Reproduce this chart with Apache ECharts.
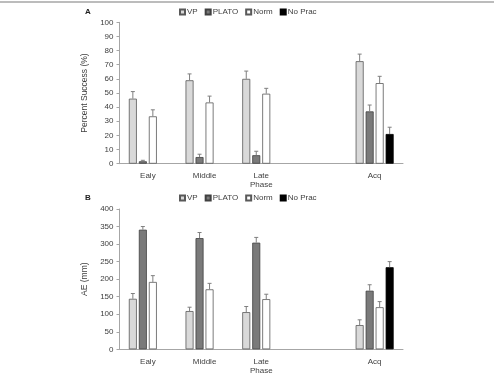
<!DOCTYPE html>
<html>
<head>
<meta charset="utf-8">
<script src="https://cdn.jsdelivr.net/npm/echarts@6/dist/echarts.min.js"></script>
<style>
  html, body { margin: 0; padding: 0; background: #fff; }
  #chart { width: 494px; height: 377px; }
</style>
</head>
<body>
<div id="chart"></div>
<script>
// categories (blank slot between Late Phase and Acq)
const categories = ['Ealy', 'Middle', 'Late\nPhase', '', 'Acq']
const seriesNames = ['VP', 'PLATO', 'Norm', 'No Prac']

// panel A: percent success
const succVP = [46, 59, 60, '-', 72.5]
const succPLATO = [1.7, 4.7, 6, '-', 37]
const succNorm = [33.5, 43.3, 49.5, '-', 57]
const succNoPrac = ['-', '-', '-', '-', 21]
const succErrVP = [5, 4.5, 5.5, 0, 5]
const succErrPLATO = [0.7, 2, 2.8, 0, 4.5]
const succErrNorm = [4.6, 4.5, 3.8, 0, 4.8]
const succErrNoPrac = [0, 0, 0, 0, 4.8]

// panel B: AE (mm)
const aeVP = [144, 109, 106, '-', 69]
const aePLATO = [341, 317, 304, '-', 167]
const aeNorm = [192, 171, 143, '-', 120]
const aeNoPrac = ['-', '-', '-', '-', 234]
const aeErrVP = [15, 11, 16, 0, 15]
const aeErrPLATO = [9, 16, 15, 0, 17]
const aeErrNorm = [18, 17, 14, 0, 16]
const aeErrNoPrac = [0, 0, 0, 0, 16]

const fills = ['#d9d9d9', '#7a7a7a', '#ffffff', '#000000']
const borders = ['#595959', '#404040', '#595959', '#000000']
const font = 'Liberation Sans, Arial, sans-serif'

const chart = echarts.init(document.getElementById('chart'))

function barSeries(i, data, axis) {
  return {
    name: seriesNames[i],
    type: 'bar',
    xAxisIndex: axis,
    yAxisIndex: axis,
    data: data,
    barWidth: 8,
    barGap: '25%',
    itemStyle: { color: fills[i], borderColor: borders[i], borderWidth: 0.8 },
    z: 2
  }
}

function errSeries(i, vals, errs, axis) {
  return {
    type: 'custom',
    xAxisIndex: axis,
    yAxisIndex: axis,
    data: vals.map((v, k) => [k, v, errs[k]]).filter(d => d[1] !== '-'),
    renderItem: function (params, api) {
      const base = api.coord([api.value(0), api.value(1)])
      const top = api.coord([api.value(0), api.value(1) + api.value(2)])
      const x = base[0] + (i - 1.5) * 10
      return {
        type: 'group',
        children: [
          { type: 'line', shape: { x1: x, y1: base[1], x2: x, y2: top[1] }, style: { stroke: '#7f7f7f', lineWidth: 1 } },
          { type: 'line', shape: { x1: x - 2, y1: top[1], x2: x + 2, y2: top[1] }, style: { stroke: '#7f7f7f', lineWidth: 1 } }
        ]
      }
    },
    silent: true,
    z: 3
  }
}

const xAxisCommon = {
  type: 'category',
  data: categories,
  axisLine: { lineStyle: { color: '#a6a6a6', width: 1 } },
  axisTick: { show: false },
  axisLabel: { color: '#404040', fontSize: 8, fontFamily: font, margin: 8, lineHeight: 9 }
}

const yAxisCommon = {
  type: 'value',
  axisLine: { show: true, lineStyle: { color: '#a6a6a6' } },
  axisTick: { show: true, length: 3, lineStyle: { color: '#a6a6a6' } },
  splitLine: { show: false },
  axisLabel: { color: '#404040', fontSize: 8, fontFamily: font, margin: 6 },
  nameLocation: 'middle',
  nameRotate: 90,
  nameTextStyle: { color: '#404040', fontSize: 8.5, fontFamily: font }
}

const legendCommon = {
  data: seriesNames,
  left: 179,
  icon: 'rect',
  itemWidth: 5,
  itemHeight: 5,
  itemGap: 7,
  textStyle: { color: '#404040', fontSize: 8, fontFamily: font, padding: [0, 0, 0, -3] },
  padding: 0
}

chart.setOption({
  animation: false,
  backgroundColor: '#fff',
  legend: [
    Object.assign({ top: 8 }, legendCommon),
    Object.assign({ top: 194 }, legendCommon)
  ],
  grid: [
    { left: 119.5, right: 91, top: 22.3, height: 141.4 },
    { left: 119.5, right: 91, top: 209, height: 140.3 }
  ],
  xAxis: [
    Object.assign({ gridIndex: 0 }, xAxisCommon),
    Object.assign({ gridIndex: 1 }, xAxisCommon)
  ],
  yAxis: [
    Object.assign({ gridIndex: 0, min: 0, max: 100, interval: 10, name: 'Percent Success (%)', nameGap: 26 }, yAxisCommon),
    Object.assign({ gridIndex: 1, min: 0, max: 400, interval: 50, name: 'AE (mm)', nameGap: 26 }, yAxisCommon)
  ],
  graphic: [
    { type: 'line', shape: { x1: 0, y1: 2, x2: 494, y2: 2 }, style: { stroke: '#a6a6a6', lineWidth: 1.5 } },
    { type: 'text', left: 85, top: 8, style: { text: 'A', font: 'bold 8px ' + font, fill: '#222' } },
    { type: 'text', left: 85, top: 194, style: { text: 'B', font: 'bold 8px ' + font, fill: '#222' } }
  ],
  series: [
    barSeries(0, succVP, 0),
    barSeries(1, succPLATO, 0),
    barSeries(2, succNorm, 0),
    barSeries(3, succNoPrac, 0),
    errSeries(0, succVP, succErrVP, 0),
    errSeries(1, succPLATO, succErrPLATO, 0),
    errSeries(2, succNorm, succErrNorm, 0),
    errSeries(3, succNoPrac, succErrNoPrac, 0),
    barSeries(0, aeVP, 1),
    barSeries(1, aePLATO, 1),
    barSeries(2, aeNorm, 1),
    barSeries(3, aeNoPrac, 1),
    errSeries(0, aeVP, aeErrVP, 1),
    errSeries(1, aePLATO, aeErrPLATO, 1),
    errSeries(2, aeNorm, aeErrNorm, 1),
    errSeries(3, aeNoPrac, aeErrNoPrac, 1)
  ]
})
</script>
</body>
</html>
